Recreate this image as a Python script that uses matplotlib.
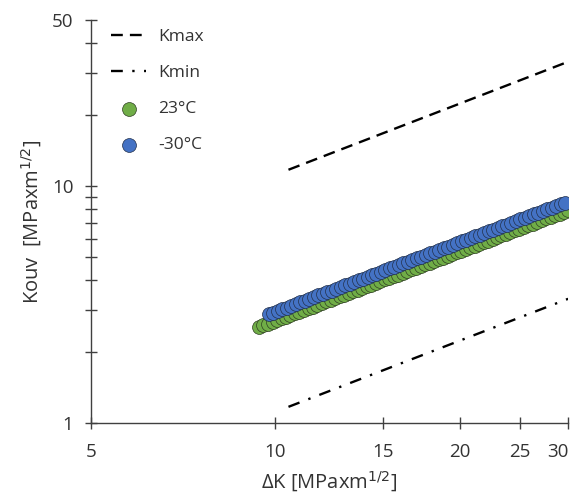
import matplotlib
matplotlib.use("Agg")
import matplotlib.pyplot as plt
from matplotlib.ticker import FixedLocator, NullFormatter, NullLocator

# ---- data ----
kmax_x = [10.5, 30.0]
kmax_y = [11.7, 33.4]
kmin_x = [10.5, 30.0]
kmin_y = [1.17, 3.34]

x_23 = [9.40, 9.56, 9.72, 9.89, 10.06, 10.23, 10.40, 10.58, 10.76, 10.94,
        11.13, 11.32, 11.51, 11.70, 11.90, 12.11, 12.31, 12.52, 12.73, 12.95,
        13.17, 13.40, 13.62, 13.86, 14.09, 14.33, 14.58, 14.82, 15.08, 15.33,
        15.59, 15.86, 16.13, 16.40, 16.68, 16.96, 17.25, 17.54, 17.84, 18.14,
        18.45, 18.77, 19.09, 19.41, 19.74, 20.08, 20.42, 20.76, 21.12, 21.48,
        21.84, 22.21, 22.59, 22.97, 23.36, 23.76, 24.16, 24.58, 24.99, 25.42,
        25.85, 26.29, 26.74, 27.19, 27.65, 28.12, 28.60, 29.09, 29.58, 30.00]
y_23 = [2.54, 2.58, 2.62, 2.67, 2.71, 2.76, 2.80, 2.85, 2.90, 2.95,
        3.00, 3.05, 3.10, 3.15, 3.20, 3.26, 3.31, 3.37, 3.42, 3.48,
        3.53, 3.59, 3.65, 3.71, 3.77, 3.83, 3.90, 3.96, 4.03, 4.10,
        4.16, 4.23, 4.31, 4.38, 4.45, 4.51, 4.59, 4.67, 4.75, 4.83,
        4.90, 4.98, 5.07, 5.15, 5.24, 5.32, 5.41, 5.50, 5.60, 5.69,
        5.78, 5.87, 5.98, 6.08, 6.18, 6.27, 6.38, 6.49, 6.60, 6.71,
        6.81, 6.93, 7.05, 7.16, 7.29, 7.40, 7.52, 7.65, 7.78, 7.89]

x_m30 = [9.75, 9.92, 10.08, 10.26, 10.43, 10.61, 10.79, 10.97, 11.16, 11.35,
         11.54, 11.74, 11.94, 12.14, 12.35, 12.56, 12.77, 12.99, 13.21, 13.43,
         13.66, 13.89, 14.13, 14.37, 14.61, 14.86, 15.11, 15.37, 15.63, 15.90,
         16.17, 16.44, 16.72, 17.01, 17.30, 17.59, 17.89, 18.19, 18.50, 18.82,
         19.14, 19.46, 19.79, 20.13, 20.47, 20.82, 21.17, 21.53, 21.90, 22.27,
         22.65, 23.03, 23.43, 23.82, 24.23, 24.64, 25.06, 25.48, 25.92, 26.36,
         26.80, 27.26, 27.72, 28.19, 28.67, 29.16, 29.65]
y_m30 = [2.87, 2.92, 2.97, 3.02, 3.07, 3.12, 3.17, 3.23, 3.28, 3.34,
         3.39, 3.45, 3.50, 3.56, 3.62, 3.68, 3.74, 3.81, 3.87, 3.93,
         4.00, 4.06, 4.13, 4.20, 4.27, 4.34, 4.41, 4.49, 4.56, 4.64,
         4.71, 4.78, 4.87, 4.95, 5.03, 5.11, 5.20, 5.28, 5.37, 5.47,
         5.55, 5.64, 5.74, 5.84, 5.94, 6.02, 6.12, 6.22, 6.33, 6.44,
         6.53, 6.64, 6.76, 6.87, 6.99, 7.10, 7.22, 7.34, 7.46, 7.59,
         7.70, 7.83, 7.96, 8.10, 8.24, 8.36, 8.50]

x_ticks = [5, 10, 15, 20, 25, 30]
y_major = [1, 10, 50]
y_minor = [2, 3, 4, 5, 6, 7, 8, 9, 20, 30, 40]

labels = ["Kmax", "Kmin", "23°C", "-30°C"]

plt.rcParams['font.family'] = ['Open Sans', 'DejaVu Sans']
TXT = '#333333'

fig = plt.figure(figsize=(5.75, 4.93), dpi=100)
ax = fig.add_axes([0.158, 0.142, 0.830, 0.817])

ax.plot(kmax_x, kmax_y, color='black', lw=1.7, dashes=(5, 3), label=labels[0])
ax.plot(kmin_x, kmin_y, color='black', lw=1.7, dashes=(5, 4, 1, 4), label=labels[1])
ax.scatter(x_23, y_23, s=100, color='#70AD47', edgecolors='#2f3f22',
           linewidths=0.5, label=labels[2], zorder=3)
ax.scatter(x_m30, y_m30, s=100, color='#4472C4', edgecolors='#22304a',
           linewidths=0.5, label=labels[3], zorder=4)

ax.set_xscale('log')
ax.set_yscale('log')
ax.set_xlim(5, 30)
ax.set_ylim(1, 50)

ax.xaxis.set_major_locator(FixedLocator(x_ticks))
ax.xaxis.set_minor_locator(NullLocator())
ax.set_xticklabels([str(t) for t in x_ticks])
ax.yaxis.set_major_locator(FixedLocator(y_major))
ax.yaxis.set_minor_locator(FixedLocator(y_minor))
ax.yaxis.set_minor_formatter(NullFormatter())
ax.set_yticklabels([str(t) for t in y_major])

for s in ['top', 'right']:
    ax.spines[s].set_visible(False)
for s in ['left', 'bottom']:
    ax.spines[s].set_color('#404040')
    ax.spines[s].set_linewidth(1.0)

ax.tick_params(axis='both', which='major', direction='inout', length=9,
               width=1.0, color='#404040', labelsize=13.5, labelcolor=TXT)
ax.tick_params(axis='x', which='major', pad=10)
ax.tick_params(axis='y', which='major', pad=8)
ax.tick_params(axis='y', which='minor', direction='inout', length=8,
               width=1.0, color='#404040')

# the last x label sits against the right edge, as in the reference
ax.get_xticklabels()[-1].set_horizontalalignment('right')
ax.get_xticklabels()[-1].set_x(29.99)

ax.set_xlabel('ΔK [MPaxm$^{1/2}$]', fontsize=14.5, color=TXT, labelpad=6)
ax.set_ylabel('Kouv  [MPaxm$^{1/2}$]', fontsize=14.5, color=TXT, labelpad=6)

ax.legend(loc='upper left', bbox_to_anchor=(0.025, 1.0), frameon=False,
          fontsize=12.5, labelspacing=1.15, handlelength=2.0, handletextpad=0.7,
          borderaxespad=0.1, labelcolor=TXT)

fig.savefig('out.png', dpi=100)
